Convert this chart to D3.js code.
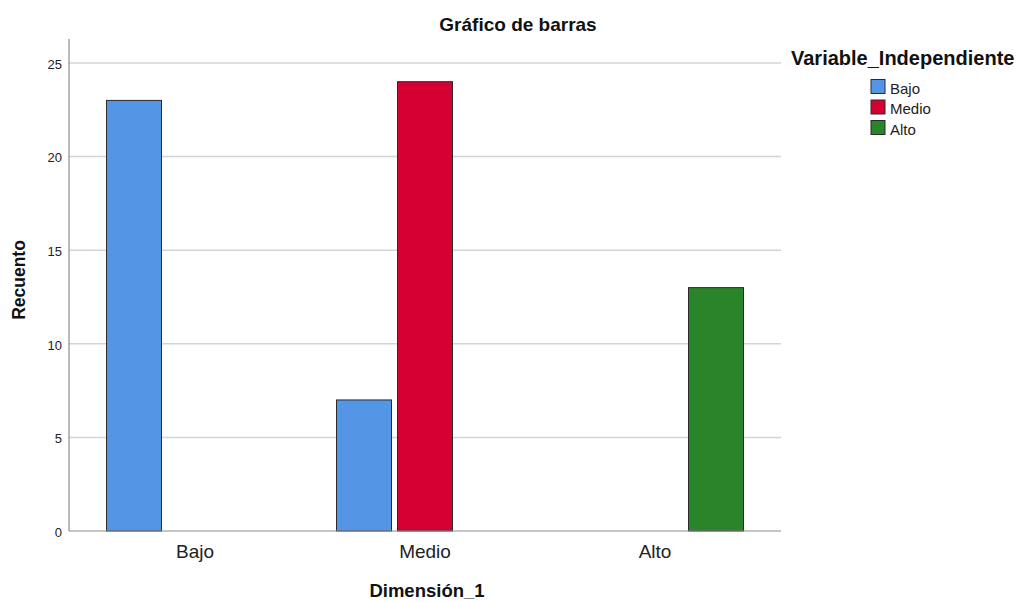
<!DOCTYPE html>
<html lang="es">
  <head>
    <meta charset="UTF-8" />
    <title>Gráfico de barras</title>
    <script src="https://cdn.jsdelivr.net/npm/d3@7"></script>
    <style>
      body { margin: 0; background: #fff; }
      svg { font-family: "Liberation Sans", Arial, sans-serif; }
    </style>
  </head>
  <body>
    <script>
      const categories = ["Bajo", "Medio", "Alto"];
      const series = ["Bajo", "Medio", "Alto"];
      // counts[category][series]
      const counts = [
        [23, 0, 0],
        [7, 24, 0],
        [0, 0, 13]
      ];
      const yTicks = [0, 5, 10, 15, 20, 25];
      const colors = ["#5595e5", "#d50032", "#2a8429"];

      const width = 1020;
      const height = 602;
      const plotLeft = 69, plotRight = 781, plotTop = 39, plotBottom = 531;

      const svg = d3.select("body").append("svg")
        .attr("width", width)
        .attr("height", height);

      const y = d3.scaleLinear().domain([0, 26.28]).range([plotBottom, plotTop]);
      const x0 = d3.scaleBand().domain(categories).range([plotLeft, plotRight])
        .paddingInner(0).paddingOuter((712 / 230 - 3) / 2);
      const x1 = d3.scaleBand().domain(series)
        .range([26.5, x0.bandwidth() - 26.5]).paddingInner(6 / 61);

      // grid
      svg.append("g")
        .selectAll("line")
        .data(yTicks.filter(d => d > 0))
        .join("line")
        .attr("x1", plotLeft).attr("x2", plotRight)
        .attr("y1", d => y(d)).attr("y2", d => y(d))
        .attr("stroke", "#d4d4d4").attr("stroke-width", 1.5);

      // bars
      const data = [];
      categories.forEach((c, i) => series.forEach((s, j) => {
        if (counts[i][j] > 0) data.push({ c, s, j, v: counts[i][j] });
      }));
      svg.append("g")
        .selectAll("rect")
        .data(data)
        .join("rect")
        .attr("x", d => x0(d.c) + x1(d.s))
        .attr("width", x1.bandwidth())
        .attr("y", d => y(d.v))
        .attr("height", d => y(0) - y(d.v))
        .attr("fill", d => colors[d.j])
        .attr("stroke", "#2b2b2b")
        .attr("stroke-width", 1);

      // axes lines
      svg.append("line")
        .attr("x1", plotLeft).attr("x2", plotLeft).attr("y1", plotTop).attr("y2", plotBottom)
        .attr("stroke", "#8c8c8c").attr("stroke-width", 1.2);
      svg.append("line")
        .attr("x1", plotLeft).attr("x2", plotRight).attr("y1", plotBottom).attr("y2", plotBottom)
        .attr("stroke", "#8c8c8c").attr("stroke-width", 1.2);

      // y tick labels
      svg.append("g")
        .selectAll("text")
        .data(yTicks)
        .join("text")
        .attr("x", plotLeft - 7)
        .attr("y", d => y(d))
        .attr("dy", "0.45em")
        .attr("text-anchor", "end")
        .attr("font-size", 13)
        .attr("fill", "#222")
        .text(d => d);

      // x tick labels
      svg.append("g")
        .selectAll("text")
        .data(categories)
        .join("text")
        .attr("x", d => x0(d) + x0.bandwidth() / 2)
        .attr("y", 557.5)
        .attr("text-anchor", "middle")
        .attr("font-size", 19)
        .attr("fill", "#222")
        .text(d => d);

      // titles
      svg.append("text")
        .attr("x", 518).attr("y", 31)
        .attr("text-anchor", "middle")
        .attr("font-size", 19).attr("font-weight", "bold")
        .attr("fill", "#111")
        .text("Gráfico de barras");

      svg.append("text")
        .attr("x", 427).attr("y", 597)
        .attr("text-anchor", "middle")
        .attr("font-size", 18.5).attr("font-weight", "bold")
        .attr("fill", "#111")
        .text("Dimensión_1");

      svg.append("text")
        .attr("transform", "translate(25," + 280 + ") rotate(-90)")
        .attr("text-anchor", "middle")
        .attr("font-size", 17.5).attr("font-weight", "bold")
        .attr("fill", "#111")
        .text("Recuento");

      // legend
      const legend = svg.append("g");
      legend.append("text")
        .attr("x", 791).attr("y", 65)
        .attr("font-size", 20).attr("font-weight", "bold")
        .attr("fill", "#111")
        .text("Variable_Independiente");

      const item = legend.selectAll("g.item")
        .data(series)
        .join("g")
        .attr("class", "item")
        .attr("transform", (d, i) => "translate(871," + (79.5 + i * 20.5) + ")");
      item.append("rect")
        .attr("width", 14).attr("height", 14)
        .attr("fill", (d, i) => colors[i])
        .attr("stroke", "#2b2b2b").attr("stroke-width", 1);
      item.append("text")
        .attr("x", 19).attr("y", 14)
        .attr("font-size", 15)
        .attr("fill", "#222")
        .text(d => d);
    </script>
  </body>
</html>
